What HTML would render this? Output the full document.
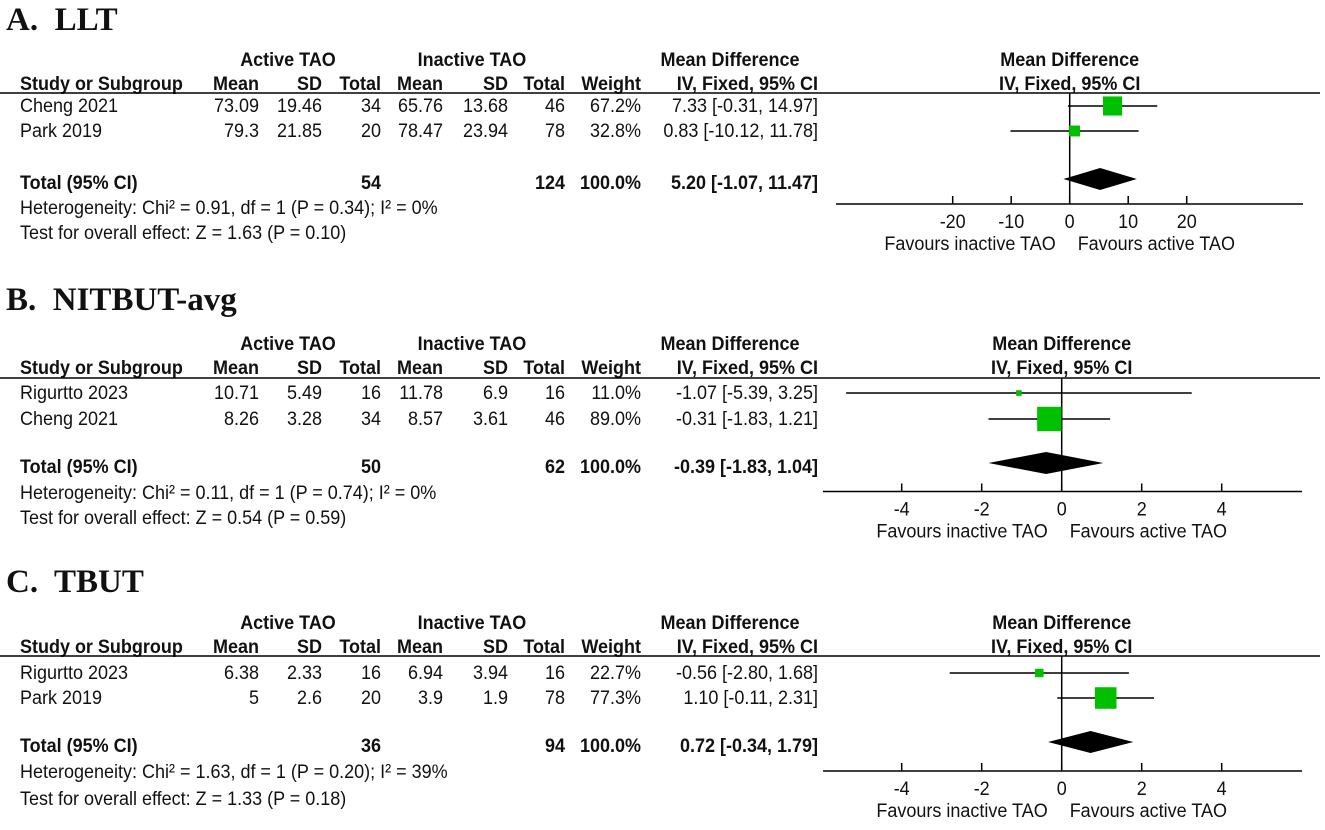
<!DOCTYPE html>
<html><head><meta charset="utf-8"><style>
html,body{margin:0;padding:0;background:#fff;width:1325px;height:830px;overflow:hidden}
svg text{font-family:"Liberation Sans",Arial,sans-serif;fill:#111}
</style></head><body>
<svg id="fig" width="1325" height="830" xmlns="http://www.w3.org/2000/svg"></svg>
<script>
// ---- data ----
const panelTitles = ["A.  LLT","B.  NITBUT-avg","C.  TBUT"];
const studiesA = ["Cheng 2021","Park 2019"];
const studiesB = ["Rigurtto 2023","Cheng 2021"];
const studiesC = ["Rigurtto 2023","Park 2019"];
const activeMeanA=["73.09","79.3"], activeSDA=["19.46","21.85"], activeNA=["34","20"];
const inactMeanA=["65.76","78.47"], inactSDA=["13.68","23.94"], inactNA=["46","78"];
const weightA=[67.2,32.8], mdA=[7.33,0.83], loA=[-0.31,-10.12], hiA=[14.97,11.78];
const totalA=["54","124"], pooledA=[5.20,-1.07,11.47];
const hetA="Heterogeneity: Chi² = 0.91, df = 1 (P = 0.34); I² = 0%", zA="Test for overall effect: Z = 1.63 (P = 0.10)";
const ticksA=[-20,-10,0,10,20];
const activeMeanB=["10.71","8.26"], activeSDB=["5.49","3.28"], activeNB=["16","34"];
const inactMeanB=["11.78","8.57"], inactSDB=["6.9","3.61"], inactNB=["16","46"];
const weightB=[11.0,89.0], mdB=[-1.07,-0.31], loB=[-5.39,-1.83], hiB=[3.25,1.21];
const totalB=["50","62"], pooledB=[-0.39,-1.83,1.04];
const hetB="Heterogeneity: Chi² = 0.11, df = 1 (P = 0.74); I² = 0%", zB="Test for overall effect: Z = 0.54 (P = 0.59)";
const ticksB=[-4,-2,0,2,4];
const activeMeanC=["6.38","5"], activeSDC=["2.33","2.6"], activeNC=["16","20"];
const inactMeanC=["6.94","3.9"], inactSDC=["3.94","1.9"], inactNC=["16","78"];
const weightC=[22.7,77.3], mdC=[-0.56,1.10], loC=[-2.80,-0.11], hiC=[1.68,2.31];
const totalC=["36","94"], pooledC=[0.72,-0.34,1.79];
const hetC="Heterogeneity: Chi² = 1.63, df = 1 (P = 0.20); I² = 39%", zC="Test for overall effect: Z = 1.33 (P = 0.18)";
const ticksC=[-4,-2,0,2,4];

const panels=[
 {title:panelTitles[0],st:studiesA,am:activeMeanA,as:activeSDA,an:activeNA,im:inactMeanA,is:inactSDA,inn:inactNA,w:weightA,md:mdA,lo:loA,hi:hiA,tot:totalA,pool:pooledA,het:hetA,z:zA,ticks:ticksA,
  ty:30,h1:66,h2:90,line:93,rows:[106,131],tr:183,hr:208,zr:233,axis:204,zero:1069.7,ppu:5.85,ax0:836,ax1:1303},
 {title:panelTitles[1],st:studiesB,am:activeMeanB,as:activeSDB,an:activeNB,im:inactMeanB,is:inactSDB,inn:inactNB,w:weightB,md:mdB,lo:loB,hi:hiB,tot:totalB,pool:pooledB,het:hetB,z:zB,ticks:ticksB,
  ty:310,h1:350,h2:374,line:378,rows:[393,419],tr:467,hr:493,zr:518,axis:491.5,zero:1061.7,ppu:40,ax0:823,ax1:1302},
 {title:panelTitles[2],st:studiesC,am:activeMeanC,as:activeSDC,an:activeNC,im:inactMeanC,is:inactSDC,inn:inactNC,w:weightC,md:mdC,lo:loC,hi:hiC,tot:totalC,pool:pooledC,het:hetC,z:zC,ticks:ticksC,
  ty:592,h1:629,h2:653,line:656,rows:[673,698],tr:746,hr:772,zr:799,axis:771,zero:1061.7,ppu:40,ax0:823,ax1:1302}
];
const NS="http://www.w3.org/2000/svg", svg=document.getElementById('fig');
function el(tag,attrs,parent){const e=document.createElementNS(NS,tag);for(const k in attrs)e.setAttribute(k,attrs[k]);(parent||svg).appendChild(e);return e;}
function txt(x,y,s,anchor,opts,parent){
 const t=el('text',Object.assign({x:x,y:0,'font-size':18,'text-anchor':anchor||'start',transform:`translate(0,${y}) scale(1,1.1)`},opts||{}),parent);
 t.textContent=s;return t;}

panels.forEach((p,pi)=>{
 const g=el('g',{});
 
 
 const tt=el('text',{x:6,y:p.ty,'font-size':33,'font-weight':'bold',style:'font-family:"Liberation Serif",serif;white-space:pre'},g);
 tt.textContent=p.title;
 
 
 const B={'font-weight':'bold'};
 txt(288,p.h1,"Active TAO",'middle',B,g);
 txt(472,p.h1,"Inactive TAO",'middle',B,g);
 txt(730,p.h1,"Mean Difference",'middle',B,g);
 txt(p.zero,p.h1,"Mean Difference",'middle',B,g);
 txt(p.zero,p.h2,"IV, Fixed, 95% CI",'middle',B,g);
 txt(20,p.h2,"Study or Subgroup",'start',B,g);
 txt(236,p.h2,"Mean",'middle',B,g);
 txt(322,p.h2,"SD",'end',B,g);
 txt(381,p.h2,"Total",'end',B,g);
 txt(420,p.h2,"Mean",'middle',B,g);
 txt(508,p.h2,"SD",'end',B,g);
 txt(565,p.h2,"Total",'end',B,g);
 txt(641,p.h2,"Weight",'end',B,g);
 txt(818,p.h2,"IV, Fixed, 95% CI",'end',B,g);
 const hl=el('line',{x1:0,x2:1320,y1:p.line,y2:p.line,stroke:'#000','stroke-width':1.5},g);
 
 
 const X=v=>p.zero+v*p.ppu;
 const zl=el('line',{x1:X(0),x2:X(0),y1:p.line,y2:p.axis,stroke:'#000','stroke-width':1.5},g);
 
 
 p.st.forEach((s,i)=>{
  const y=p.rows[i];
  txt(20,y+6,s,'start',{},g);
  txt(259,y+6,p.am[i],'end',{},g);
  txt(322,y+6,p.as[i],'end',{},g);
  txt(381,y+6,p.an[i],'end',{},g);
  txt(443,y+6,p.im[i],'end',{},g);
  txt(508,y+6,p.is[i],'end',{},g);
  txt(565,y+6,p.inn[i],'end',{},g);
  txt(641,y+6,p.w[i].toFixed(1)+'%','end',{},g);
  txt(818,y+6,p.md[i].toFixed(2)+' ['+p.lo[i].toFixed(2)+', '+p.hi[i].toFixed(2)+']','end',{},g);
  const ci=el('line',{x1:X(p.lo[i]),x2:X(p.hi[i]),y1:y,y2:y,stroke:'#000','stroke-width':1.5},g);
  
  
  const sz=3+0.24*p.w[i];
  const sq=el('rect',{x:X(p.md[i])-sz/2,y:y-sz/2,width:sz,height:sz,fill:'#00c000'},g);
  
  
 });
 txt(20,p.tr+6,"Total (95% CI)",'start',B,g);
 txt(381,p.tr+6,p.tot[0],'end',B,g);
 txt(565,p.tr+6,p.tot[1],'end',B,g);
 txt(641,p.tr+6,"100.0%",'end',B,g);
 txt(818,p.tr+6,p.pool[0].toFixed(2)+' ['+p.pool[1].toFixed(2)+', '+p.pool[2].toFixed(2)+']','end',B,g);
 txt(20,p.hr+6,p.het,'start',{},g);
 txt(20,p.zr+6,p.z,'start',{},g);
 const yd=p.tr-4;
 const dm=el('polygon',{points:`${X(p.pool[1])},${yd} ${X(p.pool[0])},${yd-11} ${X(p.pool[2])},${yd} ${X(p.pool[0])},${yd+11}`,fill:'#000'},g);
 
 
 const ax=el('line',{x1:p.ax0,x2:p.ax1,y1:p.axis,y2:p.axis,stroke:'#000','stroke-width':1.5},g);
 
 
 p.ticks.forEach(t=>{
  el('line',{x1:X(t),x2:X(t),y1:p.axis-8,y2:p.axis,stroke:'#000','stroke-width':1.5},g);
  const tl=txt(X(t),p.axis+24,String(t),'middle',{},g);
  
  
 });
 txt(p.zero-14,p.axis+46,"Favours inactive TAO",'end',{fill:'#222'},g);
 txt(p.zero+8,p.axis+46,"Favours active TAO",'start',{fill:'#222'},g);
});
</script>
</body></html>
